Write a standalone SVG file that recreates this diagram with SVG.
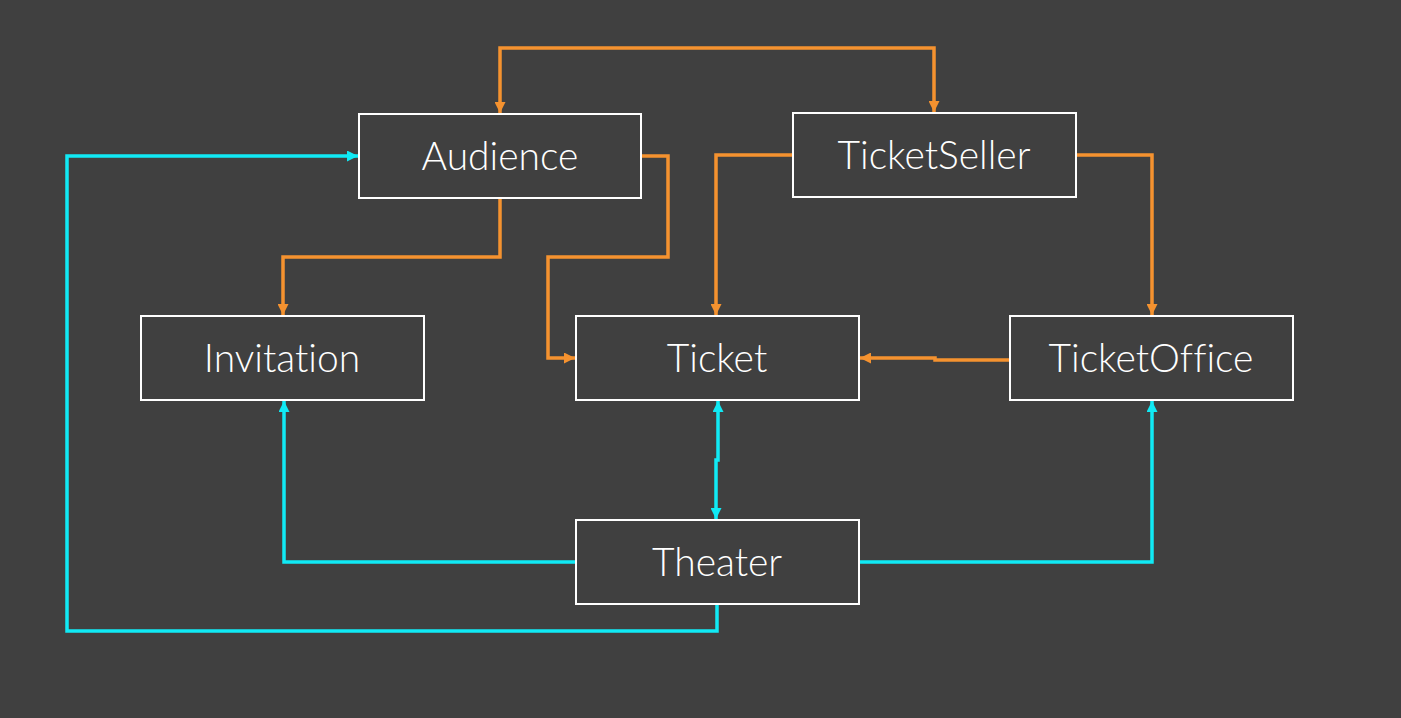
<svg xmlns="http://www.w3.org/2000/svg" width="1401" height="718" viewBox="0 0 1401 718">
<defs>
<style>
.node rect{fill:#404040;stroke:#ffffff;stroke-width:2}
.node text{fill:#ffffff;font-family:Lato,"Open Sans","Noto Sans",sans-serif;font-weight:300;font-size:39px;text-anchor:middle;dominant-baseline:central;font-variant-ligatures:none}
.o{fill:none;stroke:#f5922f;stroke-width:3.5}
.c{fill:none;stroke:#10eaf5;stroke-width:3.5}
</style>
<marker id="ao" viewBox="0 0 10 10" refX="10" refY="5" markerWidth="11" markerHeight="11" markerUnits="userSpaceOnUse" orient="auto-start-reverse"><path d="M0,0 L10,5 L0,10 z" fill="#f5922f"/></marker>
<marker id="ac" viewBox="0 0 10 10" refX="10" refY="5" markerWidth="11" markerHeight="11" markerUnits="userSpaceOnUse" orient="auto-start-reverse"><path d="M0,0 L10,5 L0,10 z" fill="#10eaf5"/></marker>
</defs>
<rect width="1401" height="718" fill="#404040"/>
<g id="connectors">
<path class="o" d="M500,113 V48 H934 V112" marker-start="url(#ao)" marker-end="url(#ao)"/>
<path class="o" d="M641,156 H668 V257 H548 V358 H575" marker-end="url(#ao)"/>
<path class="o" d="M500,198 V257 H283 V315" marker-end="url(#ao)"/>
<path class="o" d="M793,155 H716 V315" marker-end="url(#ao)"/>
<path class="o" d="M1076,155 H1152 V315" marker-end="url(#ao)"/>
<path class="o" d="M1010,360 H935 V358 H860" marker-end="url(#ao)"/>
<path class="c" d="M718,401 V460 H716 V519" marker-start="url(#ac)" marker-end="url(#ac)"/>
<path class="c" d="M576,562 H284 V401" marker-end="url(#ac)"/>
<path class="c" d="M859,562 H1152 V401" marker-end="url(#ac)"/>
<path class="c" d="M717,604 V631 H67 V156 H358" marker-end="url(#ac)"/>
</g>
<g id="Audience" class="node"><rect x="359" y="114" width="282" height="84"/><text x="500" y="155">Audience</text></g>
<g id="TicketSeller" class="node"><rect x="793" y="113" width="283" height="84"/><text x="934" y="154">TicketSeller</text></g>
<g id="Invitation" class="node"><rect x="141" y="316" width="283" height="84"/><text x="282" y="357">Invitation</text></g>
<g id="Ticket" class="node"><rect x="576" y="316" width="283" height="84"/><text x="717" y="357">Ticket</text></g>
<g id="TicketOffice" class="node"><rect x="1010" y="316" width="283" height="84"/><text x="1151" y="357">TicketOffice</text></g>
<g id="Theater" class="node"><rect x="576" y="520" width="283" height="84"/><text x="717" y="561">Theater</text></g>
</svg>
